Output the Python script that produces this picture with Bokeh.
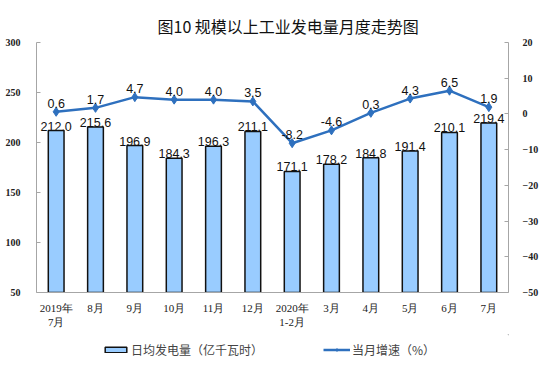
from bokeh.plotting import figure
from bokeh.layouts import column
from bokeh.models import (Range1d, LinearAxis, FactorRange, ColumnDataSource,
                          Legend, LegendItem, SingleIntervalTicker)
from bokeh.core.properties import value
from bokeh.embed import file_html
from bokeh.resources import INLINE

categories = ["2019年\n7月", "8月", "9月", "10月", "11月", "12月", "2020年\n1-2月",
              "3月", "4月", "5月", "6月", "7月"]
daily_output = [212.0, 215.6, 196.9, 184.3, 196.3, 211.1, 171.1, 178.2, 184.8, 191.4, 210.1, 219.4]
growth = [0.6, 1.7, 4.7, 4.0, 4.0, 3.5, -8.2, -4.6, 0.3, 4.3, 6.5, 1.9]
series_names = ["日均发电量（亿千瓦时）", "当月增速（%）"]

bar_labels = ["%.1f" % v for v in daily_output]
growth_labels = ["%.1f" % v for v in growth]

BAR_FILL = "#99CCFF"
LINE_COL = "#2E70BE"

src = ColumnDataSource(dict(x=categories, bar=daily_output, g=growth,
                            bl=bar_labels, gl=growth_labels))

p = figure(width=541, height=334, output_backend="svg", toolbar_location=None,
           x_range=FactorRange(*categories, range_padding=0),
           y_range=Range1d(50, 300),
           min_border_left=36, min_border_right=24, min_border_top=42, min_border_bottom=42,
           title="图10  规模以上工业发电量月度走势图")
p.title.align = "left"
p.title.offset = 121
p.title.standoff = 9
p.title.text_font = "Noto Sans CJK SC"
p.title.text_font_size = "16px"
p.title.text_font_style = "normal"
p.title.text_color = "#111111"
p.outline_line_color = None
p.xgrid.visible = False
p.ygrid.visible = False
p.x_range.factor_padding = 0

p.extra_y_ranges = {"right": Range1d(-50, 20)}
raxis = LinearAxis(y_range_name="right", ticker=SingleIntervalTicker(interval=10))
p.add_layout(raxis, "right")

p.yaxis[0].ticker = SingleIntervalTicker(interval=50)

for ax in [p.yaxis[0], raxis]:
    ax.axis_line_color = "#A6A6A6"
    ax.major_tick_line_color = "#A6A6A6"
    ax.major_tick_in = 4
    ax.major_tick_out = 0
    ax.minor_tick_line_color = None
    ax.major_label_text_font = "Liberation Serif"
    ax.major_label_text_font_style = "bold"
    ax.major_label_text_font_size = "10px"
    ax.major_label_text_color = "#222222"
p.yaxis[0].major_label_standoff = 12
raxis.major_label_standoff = 10

xa = p.xaxis[0]
xa.axis_line_color = "#A6A6A6"
xa.major_tick_line_color = None
xa.minor_tick_line_color = None
xa.major_label_text_font = "Liberation Serif"
xa.major_label_text_font_size = "11px"
xa.major_label_text_color = "#222222"
xa.major_label_standoff = 3

p.vbar(x="x", top="bar", bottom=50, width=0.4, source=src,
       fill_color=BAR_FILL, line_color="#111111", line_width=1.5)
p.text(x="x", y="bar", text="bl", source=src, text_align="center",
       text_baseline="bottom", y_offset=0, text_font=value("Liberation Sans"),
       text_font_size="12.5px", text_color="#111111")

p.line(x="x", y="g", source=src, y_range_name="right",
       line_color=LINE_COL, line_width=2.5)
p.scatter(x="x", y="g", source=src, y_range_name="right", marker="diamond",
          size=9, fill_color=LINE_COL, line_color=LINE_COL)
p.text(x="x", y="g", text="gl", source=src, y_range_name="right", text_align="center",
       text_baseline="bottom", y_offset=-4, text_font=value("Liberation Sans"),
       text_font_size="12.5px", text_color="#111111")

# legend strip below the chart (dummy renderers sit outside the visible range)
lf = figure(width=541, height=40, output_backend="svg", toolbar_location=None,
            x_range=Range1d(0, 1), y_range=Range1d(0, 1),
            x_axis_type=None, y_axis_type=None, min_border=0)
lf.outline_line_color = None
lf.xgrid.visible = False
lf.ygrid.visible = False
dummy = ColumnDataSource(dict(x=[5], y=[5]))
lb = lf.vbar(x="x", top="y", bottom=4, width=0.4, source=dummy,
             fill_color=BAR_FILL, line_color="#111111", line_width=1.5)
ll = lf.line(x="x", y="y", source=dummy, line_color=LINE_COL, line_width=2.5)
lm = lf.scatter(x="x", y="y", source=dummy, marker="diamond", size=6,
                fill_color=LINE_COL, line_color=LINE_COL)
legend = Legend(items=[LegendItem(label=series_names[0], renderers=[lb]),
                       LegendItem(label=series_names[1], renderers=[ll, lm])],
                orientation="horizontal", location=(66, 16), margin=0,
                border_line_color=None, background_fill_alpha=0,
                label_text_font="Noto Sans CJK SC", label_text_font_size="12px",
                glyph_width=27, glyph_height=7, spacing=60, padding=0,
                label_standoff=2)
lf.add_layout(legend, "center")

page = column(p, lf, spacing=0)
open("out.html", "w").write(file_html(page, INLINE))
